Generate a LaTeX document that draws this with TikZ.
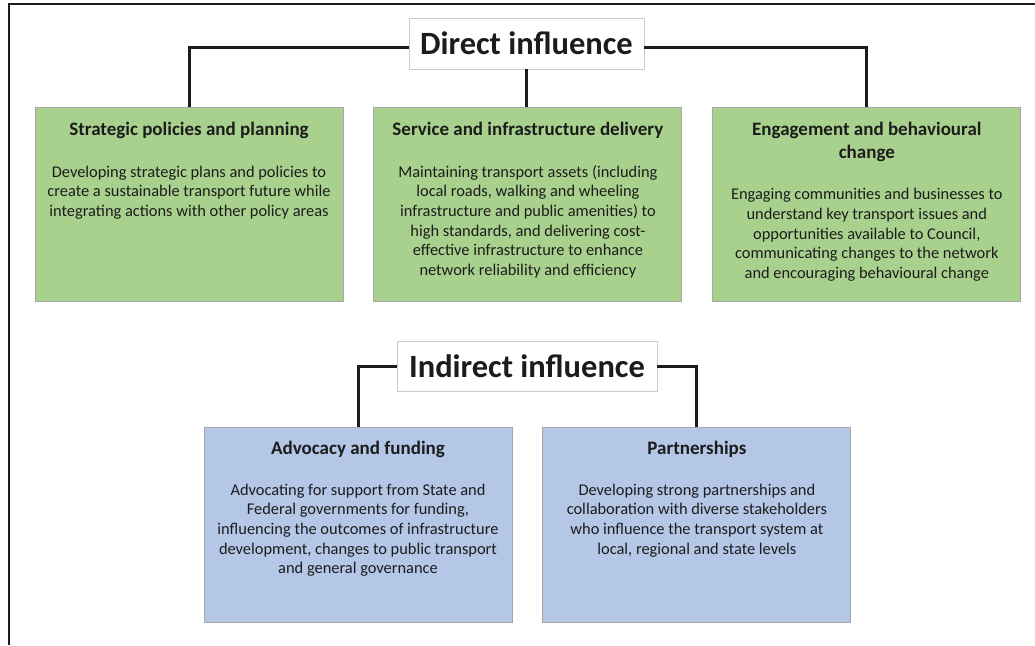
\documentclass[tikz,border=0pt]{standalone}
\usepackage{fontspec}
\setmainfont{Carlito}
\usepackage{tikz}
\usetikzlibrary{positioning}

\definecolor{boxgreen}{RGB}{169,209,142}
\definecolor{boxblue}{RGB}{180,199,231}
\definecolor{boxline}{RGB}{166,166,166}
\definecolor{textdark}{RGB}{28,28,28}

\newcommand{\areatitle}[1]{{\fontsize{19}{23}\selectfont\bfseries #1}}

\begin{document}
\begin{tikzpicture}[x=1pt,y=-1pt,
    heading/.style={draw=boxline!60,fill=white,inner sep=0pt,text=textdark,
        font=\fontsize{32.5}{36}\selectfont\bfseries},
    areabox/.style={draw=boxline,line width=0.9pt,inner sep=0pt,
        minimum width=308pt,minimum height=194pt},
    areatext/.style={anchor=north,align=center,text=textdark,
        font=\fontsize{16.4}{19.7}\selectfont},
    link/.style={line width=3pt,textdark}]
    \useasboundingbox (0,0) rectangle (1035,645);

    % Frame
    \draw[line width=1.6pt,textdark] (1035,4) -- (9,4) -- (9,645);

    % Direct influence
    \node[heading,minimum width=235pt,minimum height=51pt] (dir) at (526.5,43.5) {Direct influence};
    \node[areabox,fill=boxgreen] (strat) at (189,204) {};
    \node[areabox,fill=boxgreen,right=30pt of strat] (serv) {};
    \node[areabox,fill=boxgreen,right=30pt of serv] (eng) {};

    \node[areatext] (strat-text) at ([yshift=-12pt]strat.north) {\areatitle{Strategic policies and planning}\\[22pt]
        Developing strategic plans and policies to\\
        create a sustainable transport future while\\
        integrating actions with other policy areas};
    \node[areatext] (serv-text) at ([yshift=-12pt]serv.north) {\areatitle{Service and infrastructure delivery}\\[22pt]
        Maintaining transport assets (including\\
        local roads, walking and wheeling\\
        infrastructure and public amenities) to\\
        high standards, and delivering cost-\\
        effective infrastructure to enhance\\
        network reliability and efficiency};
    \node[areatext] (eng-text) at ([yshift=-12pt]eng.north) {\areatitle{Engagement and behavioural}\\[3pt]
        \areatitle{change}\\[22pt]
        Engaging communities and businesses to\\
        understand key transport issues and\\
        opportunities available to Council,\\
        communicating changes to the network\\
        and encouraging behavioural change};

    \draw[link] ([yshift=-3.5pt]dir.west) -| (strat.north);
    \draw[link] ([yshift=-3.5pt]dir.east) -| (eng.north);
    \draw[link] (dir.south) -- (dir.south |- serv.north);

    % Indirect influence
    \node[heading,minimum width=260pt,minimum height=50pt] (ind) at (527,366) {Indirect influence};
    \node[areabox,fill=boxblue,minimum height=195pt] (advo) at (358,524.5) {};
    \node[areabox,fill=boxblue,minimum height=195pt,right=30pt of advo] (part) {};

    \node[areatext] (advo-text) at ([yshift=-11pt]advo.north) {\areatitle{Advocacy and funding}\\[21pt]
        Advocating for support from State and\\
        Federal governments for funding,\\
        influencing the outcomes of infrastructure\\
        development, changes to public transport\\
        and general governance};
    \node[areatext] (part-text) at ([yshift=-11pt]part.north) {\areatitle{Partnerships}\\[21pt]
        Developing strong partnerships and\\
        collaboration with diverse stakeholders\\
        who influence the transport system at\\
        local, regional and state levels};

    \draw[link] (ind.west) -| (advo.north);
    \draw[link] (ind.east) -| (part.north);
\end{tikzpicture}
\end{document}
